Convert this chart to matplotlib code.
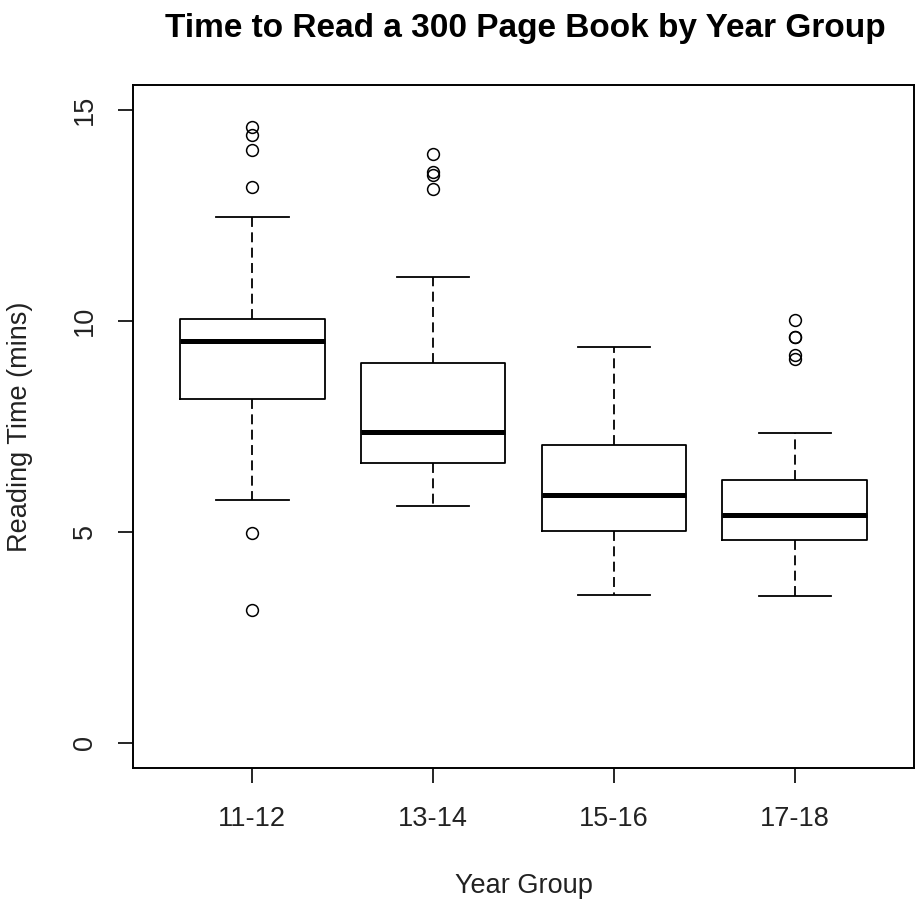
import matplotlib
matplotlib.use("Agg")
import matplotlib.pyplot as plt

plt.rcParams['font.family'] = ['Liberation Sans', 'DejaVu Sans']

groups = ['11-12', '13-14', '15-16', '17-18']
whisker_low = [5.76, 5.62, 3.51, 3.48]
q1 = [8.16, 6.63, 5.03, 4.81]
median = [9.53, 7.38, 5.88, 5.39]
q3 = [10.06, 9.00, 7.06, 6.23]
whisker_high = [12.46, 11.05, 9.38, 7.34]
outliers = [
    [14.60, 14.41, 14.05, 13.19, 4.98, 3.15],
    [13.97, 13.54, 13.46, 13.14],
    [],
    [10.02, 9.63, 9.63, 9.19, 9.09],
]

stats = []
for i, g in enumerate(groups):
    stats.append({
        'label': g,
        'whislo': whisker_low[i],
        'q1': q1[i],
        'med': median[i],
        'q3': q3[i],
        'whishi': whisker_high[i],
        'fliers': outliers[i],
    })

fig = plt.figure(figsize=(9.15, 9.01), dpi=100)
ax = fig.add_axes([0.1454, 0.1476, 0.8535, 0.7581])

lw = 1.3
ax.bxp(stats, positions=[1, 2, 3, 4], widths=0.8, capwidths=0.4,
       boxprops=dict(color='black', linewidth=lw),
       medianprops=dict(color='black', linewidth=3.6, solid_capstyle='butt'),
       whiskerprops=dict(color='black', linewidth=lw, linestyle=(0, (5.5, 3))),
       capprops=dict(color='black', linewidth=lw),
       flierprops=dict(marker='o', markersize=8.5, markerfacecolor='none',
                       markeredgecolor='black', markeredgewidth=1.1))

ax.set_xlim(0.34, 4.66)
ax.set_ylim(-0.6, 15.6)
ax.set_yticks([0, 5, 10, 15])
ax.set_yticklabels(['0', '5', '10', '15'], rotation=90, va='center')
ax.set_xticks([1, 2, 3, 4])
ax.set_xticklabels(groups)
ax.tick_params(axis='both', labelsize=19.5, length=11, width=1.2, direction='out',
               pad=16, labelcolor='#222222')
ax.tick_params(axis='y', pad=14)
for s in ax.spines.values():
    s.set_linewidth(1.4)

ax.set_xlabel('Year Group', fontsize=19.5, color='#222222', va='top')
ax.xaxis.set_label_coords(0.5, -0.1537)
ax.set_ylabel('Reading Time (mins)', fontsize=19.5, color='#222222')
ax.yaxis.set_label_coords(-0.128, 0.5)
fig.suptitle('Time to Read a 300 Page Book by Year Group', fontsize=24,
             fontweight='bold', x=0.5738, y=0.986, va='top')

fig.savefig('out.png', dpi=100)
